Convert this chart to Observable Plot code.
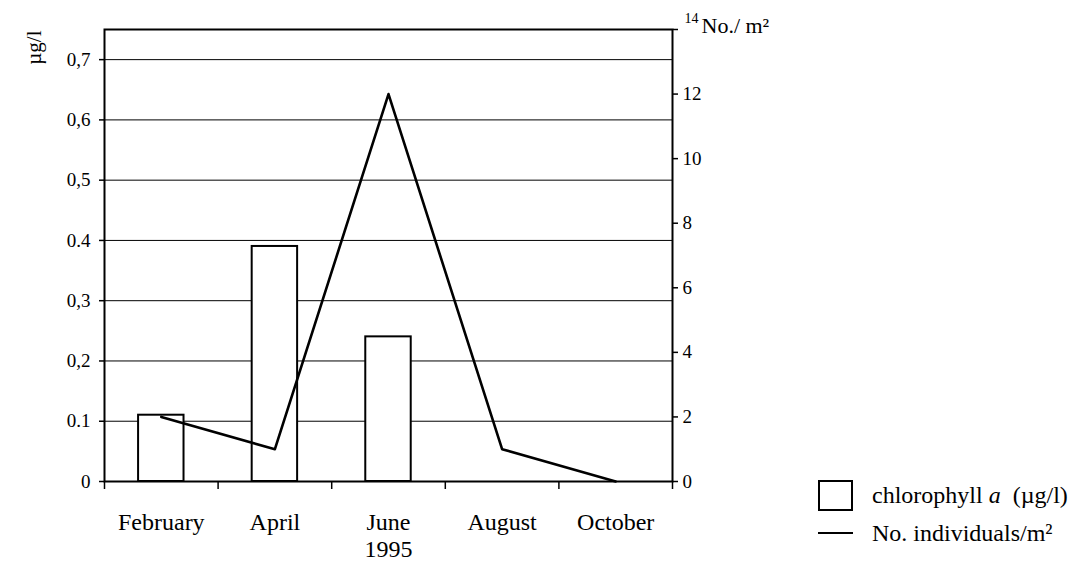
<!DOCTYPE html>
<html>
<head>
<meta charset="utf-8">
<script src="https://cdn.jsdelivr.net/npm/d3@7"></script>
<script src="https://cdn.jsdelivr.net/npm/@observablehq/plot@0.6"></script>
<style>
  body { margin: 0; background: white; }
  #wrap { position: relative; width: 1081px; height: 561px; font-family: "Liberation Serif", serif; color: black; }
  #legend { position: absolute; left: 818px; top: 476px; font-size: 24px; }
  .row { display: flex; align-items: center; height: 38px; }
  .box { width: 31px; height: 27px; border: 2px solid black; box-sizing: content-box; }
  .ln { width: 35px; height: 0; border-top: 2px solid black; }
  .lab { margin-left: 19px; white-space: nowrap; }
</style>
</head>
<body>
<div id="wrap"></div>
<script>
// ---- data ----
const months = ["February", "April", "June", "August", "October"];
const chlorophyll = [0.11, 0.39, 0.24, null, null];   // µg/l (left axis)
const individuals = [2, 1, 12, 1, 0];                 // No./m² (right axis)
const leftTicks = [0, 0.1, 0.2, 0.3, 0.4, 0.5, 0.6, 0.7];
const leftTickLabels = ["0", "0.1", "0,2", "0,3", "0.4", "0,5", "0,6", "0,7"];
const rightTicks = [0, 2, 4, 6, 8, 10, 12, 14];
const leftMax = 0.75;
const rightMax = 14;
const yearLabel = "1995";
const leftUnit = "µg/l";
const rightUnit = "No./ m²";

// ---- build ----
const k = leftMax / rightMax;
const table = months.map((m, i) => ({month: m, pos: i + 0.5, chl: chlorophyll[i], ind: individuals[i]}));
const boundaries = d3.range(0, months.length + 1);

const chart = Plot.plot({
  width: 1081,
  height: 561,
  marginLeft: 104,
  marginRight: 409,
  marginTop: 29,
  marginBottom: 80,
  style: {fontFamily: "Liberation Serif", fontSize: "19px", color: "black", background: "white"},
  x: {domain: [0, months.length], label: null},
  y: {domain: [0, leftMax], label: null},
  marks: [
    Plot.ruleY(leftTicks.filter(d => d > 0), {stroke: "black", strokeWidth: 1}),
    Plot.rectY(table.filter(d => d.chl != null), {
      x1: d => d.pos - 0.2, x2: d => d.pos + 0.2, y1: 0, y2: "chl",
      fill: "white", stroke: "black", strokeWidth: 2
    }),
    Plot.line(table, {x: "pos", y: d => d.ind * k, stroke: "black", strokeWidth: 2.6}),
    Plot.frame({stroke: "black", strokeWidth: 2}),
    // left axis
    Plot.axisY(leftTicks, {anchor: "left", tickSize: 5, tickPadding: 9, strokeWidth: 1.5,
      tickFormat: (d, i) => leftTickLabels[i], fontSize: 19, label: null}),
    // right axis
    Plot.axisY(rightTicks, {anchor: "right", y: d => d * k, tickSize: 5, tickPadding: 5, strokeWidth: 1.5,
      tickFormat: d => (d === rightMax ? "" : String(d)), fontSize: 19, label: null}),
    Plot.text([rightMax], {y: d => d * k, text: d => String(d), frameAnchor: "right",
      dx: 12, dy: -11, textAnchor: "start", fontSize: 14}),
    Plot.text([rightUnit], {frameAnchor: "top-right", dx: 29, dy: -12, textAnchor: "start", fontSize: 22}),
    // left unit (rotated)
    Plot.text([leftUnit], {frameAnchor: "top-left", dx: -78, dy: 1, rotate: -90, textAnchor: "end", fontSize: 21}),
    // x axis: boundary ticks and month labels
    Plot.axisX(boundaries, {anchor: "bottom", tickSize: 8, strokeWidth: 1.5, tickFormat: () => "", label: null}),
    Plot.axisX(table.map(d => d.pos), {anchor: "bottom", tickSize: 0, tickPadding: 31,
      tickFormat: (d, i) => months[i], fontSize: 24, label: null}),
    Plot.text([yearLabel], {x: () => months.length / 2, frameAnchor: "bottom", lineAnchor: "top",
      dy: 58, fontSize: 24})
  ]
});

const wrap = document.getElementById("wrap");
wrap.appendChild(chart);

const legend = document.createElement("div");
legend.id = "legend";
legend.innerHTML = `
  <div class="row"><div class="box"></div><div class="lab">chlorophyll <i>a</i>&nbsp; (µg/l)</div></div>
  <div class="row"><div class="ln"></div><div class="lab">No. individuals/m²</div></div>`;
wrap.appendChild(legend);
</script>
</body>
</html>
